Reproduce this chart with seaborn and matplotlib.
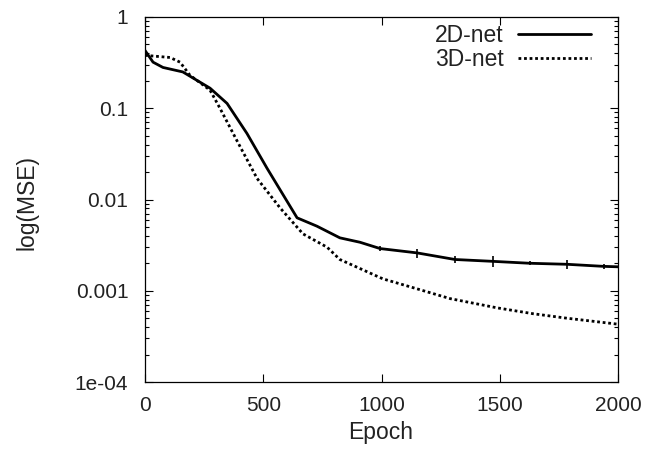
import numpy as np
import pandas as pd
import matplotlib
matplotlib.use("Agg")
import matplotlib.pyplot as plt
import seaborn as sns
from matplotlib.ticker import LogLocator, FixedLocator, FixedFormatter, NullFormatter

epoch_2d = [0, 34, 76, 160, 275, 347, 431, 516, 643, 727, 824, 909, 994, 1150, 1311, 1471, 1628, 1784, 1940, 2000]
mse_2d = [0.43, 0.32, 0.28, 0.25, 0.166, 0.113, 0.053, 0.022, 0.0063, 0.0051, 0.0038, 0.0034, 0.0029, 0.0026, 0.0022, 0.0021, 0.0020, 0.00195, 0.00185, 0.00183]

epoch_3d = [0, 106, 148, 190, 275, 317, 389, 474, 571, 668, 770, 824, 1006, 1150, 1290, 1488, 1641, 1784, 2000]
mse_3d = [0.38, 0.36, 0.32, 0.23, 0.158, 0.10, 0.044, 0.017, 0.0081, 0.0042, 0.0030, 0.0022, 0.00135, 0.00105, 0.00082, 0.00065, 0.00056, 0.0005, 0.00043]

err_epoch = [994, 1150, 1311, 1471, 1628, 1784, 1940]
err_mse = [0.0029, 0.0026, 0.0022, 0.0021, 0.0020, 0.00195, 0.00185]
err_size = [0.0002, 0.0003, 0.0002, 0.0003, 0.0001, 0.0002, 0.0001]

series_names = ["2D-net", "3D-net"]
y_ticks = [1, 0.1, 0.01, 0.001, 0.0001]
y_tick_labels = ["1", "0.1", "0.01", "0.001", "1e-04"]
x_ticks = [0, 500, 1000, 1500, 2000]

df = pd.concat([
    pd.DataFrame({"Epoch": epoch_2d, "MSE": mse_2d, "net": series_names[0]}),
    pd.DataFrame({"Epoch": epoch_3d, "MSE": mse_3d, "net": series_names[1]}),
])

sns.set_theme(style="ticks")
plt.rcParams["font.family"] = ["Liberation Sans", "DejaVu Sans"]

fig = plt.figure(figsize=(6.51, 4.58), dpi=100)
ax = fig.add_axes([145/651, 1-382/458, (618-145)/651, (382-17)/458])

sns.lineplot(data=df, x="Epoch", y="MSE", hue="net", style="net",
             palette={"2D-net": "black", "3D-net": "black"},
             dashes={"2D-net": "", "3D-net": (1, 1)},
             linewidth=2.0, ax=ax, legend=True)
ax.errorbar(err_epoch, err_mse, yerr=err_size, fmt="none", ecolor="black", elinewidth=1.2, capsize=0)

ax.set_yscale("log")
ax.set_ylim(1e-4, 1)
ax.set_xlim(0, 2000)
ax.yaxis.set_major_locator(FixedLocator(y_ticks))
ax.yaxis.set_major_formatter(FixedFormatter(y_tick_labels))
ax.yaxis.set_minor_locator(LogLocator(base=10, subs=np.arange(2, 10)))
ax.yaxis.set_minor_formatter(NullFormatter())
ax.xaxis.set_major_locator(FixedLocator(x_ticks))

ax.tick_params(which="both", direction="in", top=True, right=True, labelsize=15, width=0.8,
               colors="black", labelcolor="#222222")
ax.tick_params(which="major", length=6)
ax.tick_params(axis="y", which="major", pad=12)
ax.tick_params(axis="x", which="major", pad=10)
ax.tick_params(which="minor", length=3)
for s in ax.spines.values():
    s.set_linewidth(0.9)
    s.set_color("black")

ax.set_xlabel("Epoch", fontsize=16.5, color="#222222")
ax.set_ylabel("log(MSE)", fontsize=16.5, color="#222222")
ax.xaxis.set_label_coords((381 - 145) / 473, -(421 - 382) / 365)
ax.yaxis.set_label_coords(-(145 - 38) / 473, (382 - 202) / 365)

leg = ax.legend(loc="upper right", frameon=False, markerfirst=False, fontsize=16.5,
                handlelength=3.2, borderaxespad=0.0, labelspacing=0.05, handletextpad=0.6,
                bbox_to_anchor=(1 - 18/473, 1.005))
for t in leg.get_texts():
    t.set_color("#222222")

fig.savefig("out.png", dpi=100)
